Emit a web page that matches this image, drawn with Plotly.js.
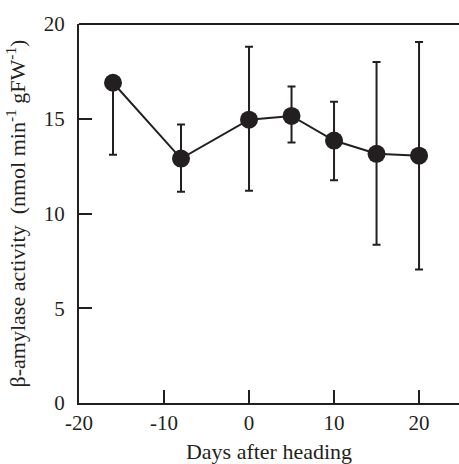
<!DOCTYPE html>
<html><head><meta charset="utf-8">
<script src="https://cdn.plot.ly/plotly-3.0.1.min.js"></script>
<style>html,body{margin:0;padding:0;background:#fff}</style>
</head><body>
<div id="chart" style="width:459px;height:464px"></div>
<script>
var days = [-16, -8, 0, 5, 10, 15, 20];
var activity = [16.9, 12.9, 14.95, 15.15, 13.85, 13.15, 13.05];
var errUpper = [0, 1.8, 3.85, 1.55, 2.05, 4.85, 6.0];
var errLower = [3.8, 1.75, 3.75, 1.4, 2.1, 4.8, 6.0];
var xTicks = [-20, -10, 0, 10, 20];
var yTicks = [0, 5, 10, 15, 20];
var ink = '#231f20';
var trace = {
  x: days, y: activity, type: 'scatter', mode: 'lines+markers',
  line: {color: ink, width: 2},
  marker: {color: ink, size: 18},
  error_y: {type: 'data', symmetric: false, array: errUpper, arrayminus: errLower,
    color: ink, thickness: 2, width: 4}
};
var tickFont = {family: '"Liberation Serif", "Times New Roman", serif', size: 21, color: ink};
var titleFont = {family: '"Liberation Serif", "Times New Roman", serif', size: 22, color: ink};
var layout = {
  width: 459, height: 464,
  margin: {l: 79, r: 0, t: 24, b: 61},
  paper_bgcolor: '#fff', plot_bgcolor: '#fff',
  font: tickFont,
  showlegend: false,
  shapes: [{type: 'line', xref: 'paper', yref: 'paper', x0: 0, x1: 1, y0: 1, y1: 1,
    line: {color: ink, width: 2}}],
  xaxis: {
    range: [-20, 24.7], tickvals: xTicks, ticktext: xTicks.map(String),
    ticks: 'inside', ticklen: 13, tickwidth: 2, tickcolor: ink,
    showline: true, linecolor: ink, linewidth: 2, mirror: false,
    showgrid: false, zeroline: false,
    tickfont: tickFont, ticklabelstandoff: 0,
    title: {text: 'Days after heading', font: titleFont, standoff: 11}
  },
  yaxis: {
    range: [0, 20], tickvals: yTicks, ticktext: yTicks.map(String),
    ticks: 'inside', ticklen: 13, tickwidth: 2, tickcolor: ink,
    showline: true, linecolor: ink, linewidth: 2, mirror: false,
    showgrid: false, zeroline: false,
    tickfont: tickFont, ticklabelstandoff: 8,
    title: {text: 'β-amylase activity  (nmol min<sup>-1</sup> gFW<sup>-1</sup>)', font: titleFont, standoff: 12}
  }
};
Plotly.newPlot('chart', [trace], layout, {displayModeBar: false, staticPlot: true});
</script>
</body></html>
